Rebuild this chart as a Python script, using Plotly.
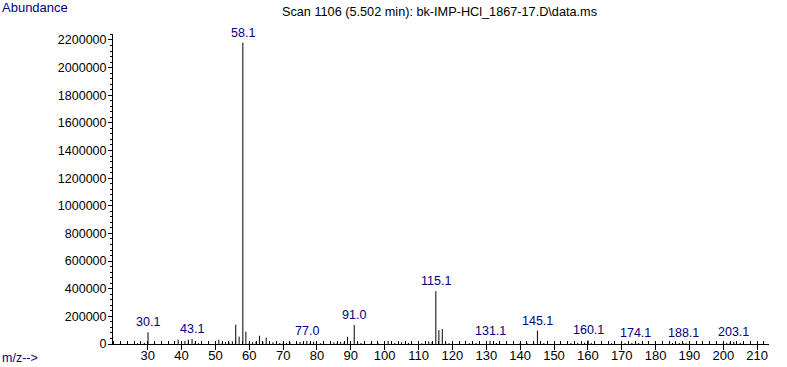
import plotly.graph_objects as go

# m/z positions of spectral lines and their abundances
mz = [27, 29, 30.1, 32, 39, 41, 42, 43.1, 44, 45, 50, 51, 52, 53, 54, 55, 56, 57, 58.1, 59,
      60, 61, 62, 63, 64, 65, 66, 67, 69, 70, 71, 72, 74, 75, 76, 77.0, 78, 79, 81, 84,
      85, 86, 87, 88, 89, 91.0, 92, 93, 96, 98, 101, 102, 103, 105, 107, 111, 113, 114, 115.1, 116,
      117, 118, 119, 125, 127, 128, 131.1, 133, 140, 142, 144, 145.1, 146, 147, 155, 157, 159, 160.1, 161, 167,
      171, 173, 174.1, 175, 185, 187, 188.1, 189, 200, 201, 202, 203.1, 205]
abundance = [6000, 8000, 85000, 7000, 32000, 22000, 32000, 36000, 9000, 6000, 8000, 31000, 8000, 14000, 9000, 20000, 140000, 53000, 2180000, 89000,
             9000, 14000, 18000, 60000, 15000, 46000, 8000, 12000, 7000, 6000, 9000, 14000, 8000, 15000, 12000, 22000, 10000, 16000, 6000, 9000,
             12000, 10000, 14000, 10000, 52000, 137000, 16000, 8000, 6000, 7000, 22000, 8000, 9000, 12000, 8000, 6000, 18000, 15000, 382000, 100000,
             108000, 16000, 6000, 6000, 8000, 10000, 22000, 7000, 6000, 8000, 10000, 97000, 12000, 6000, 7000, 9000, 10000, 26000, 8000, 6000,
             7000, 8000, 10000, 7000, 7000, 8000, 10000, 6000, 8000, 9000, 10000, 16000, 7000]

# labelled peaks
label_mz = [30.1, 43.1, 58.1, 77.0, 91.0, 115.1, 131.1, 145.1, 160.1, 174.1, 188.1, 203.1]

x_ticks = list(range(30, 211, 10))
y_ticks = list(range(0, 2200001, 200000))

title_text = "Scan 1106 (5.502 min): bk-IMP-HCl_1867-17.D\\data.ms"

NAVY = "#000080"
FONT = "Liberation Sans"

xs, ys = [], []
for m, a in zip(mz, abundance):
    xs += [m, m, None]
    ys += [0, a, None]

fig = go.Figure()
fig.add_trace(go.Scatter(x=xs, y=ys, mode="lines",
                         line=dict(color="black", width=1),
                         hoverinfo="skip", showlegend=False))

for lm in label_mz:
    val = abundance[mz.index(lm)]
    fig.add_annotation(x=lm, y=val, xref="x", yref="y", text=f"{lm:.1f}",
                       showarrow=False, yanchor="bottom", xanchor="center",
                       yshift=1, font=dict(family=FONT, size=12.5, color=NAVY))

fig.add_annotation(x=-113 / 656, y=(344 - 8) / 310, xref="paper", yref="paper",
                   text="Abundance", showarrow=False, xanchor="left", yanchor="middle",
                   font=dict(family=FONT, size=13, color=NAVY))
fig.add_annotation(x=-113 / 656, y=(344 - 358) / 310, xref="paper", yref="paper",
                   text="m/z-->", showarrow=False, xanchor="left", yanchor="middle",
                   font=dict(family=FONT, size=12.5, color=NAVY))

fig.update_layout(
    width=787, height=367,
    margin=dict(l=113, r=18, t=34, b=23),
    paper_bgcolor="white", plot_bgcolor="white",
    title=dict(text=title_text, x=282 / 787, xanchor="left", xref="container",
               y=1 - 12 / 367, yanchor="middle", yref="container",
               font=dict(family=FONT, size=12.7, color="black")),
    font=dict(family=FONT, size=12.5, color="black"),
)
fig.update_xaxes(range=[19.75, 213.5], tickvals=x_ticks, ticktext=[str(v) for v in x_ticks],
                 automargin=False, ticklabelstandoff=-6,
                 showgrid=False, zeroline=False, showline=True, linecolor="black", linewidth=1,
                 ticks="outside", ticklen=5, tickcolor="black", tickwidth=1,
                 minor=dict(dtick=2, tick0=0, ticks="inside", ticklen=3, tickcolor="black", showgrid=False),
                 tickfont=dict(family=FONT, size=13, color="black"))
fig.update_yaxes(range=[0, 2243000], tickvals=y_ticks, ticktext=[str(v) for v in y_ticks],
                 automargin=False, ticklabelstandoff=-1,
                 showgrid=False, zeroline=False, showline=True, linecolor="black", linewidth=1,
                 ticks="outside", ticklen=4, tickcolor="black", tickwidth=1,
                 minor=dict(dtick=40000, tick0=0, ticks="outside", ticklen=2, tickcolor="black", showgrid=False),
                 tickfont=dict(family=FONT, size=12.5, color="black"))

fig.write_html("out.html", config={"displayModeBar": False},
               post_script="document.body.style.margin='0';document.body.style.overflow='hidden';")
